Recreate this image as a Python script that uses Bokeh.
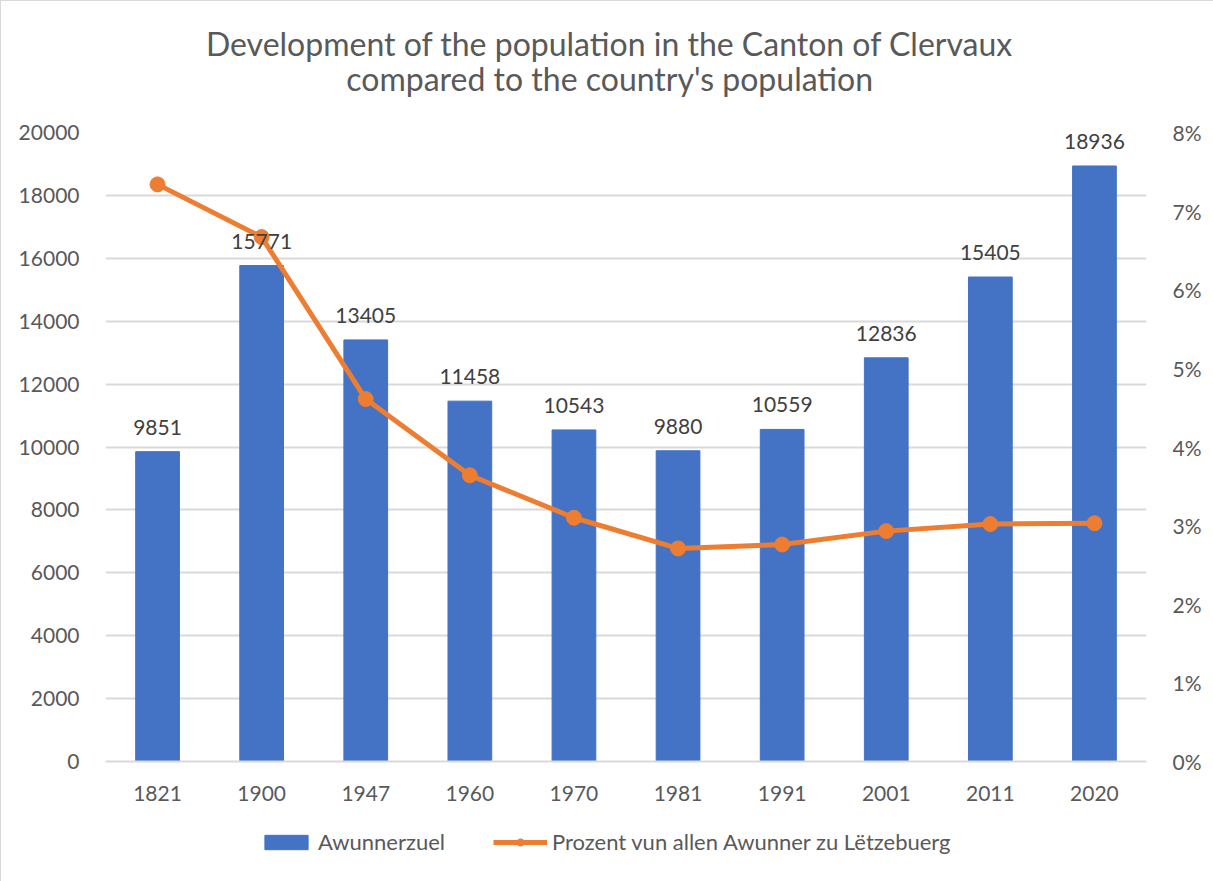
from bokeh.plotting import figure
from bokeh.layouts import column
from bokeh.models import (ColumnDataSource, FactorRange, Range1d, LinearAxis, FixedTicker,
                          PrintfTickFormatter, Legend, LegendItem, Label)
from bokeh.core.properties import value
from bokeh.embed import file_html
from bokeh.resources import INLINE

years = ["1821", "1900", "1947", "1960", "1970", "1981", "1991", "2001", "2011", "2020"]
population = [9851, 15771, 13405, 11458, 10543, 9880, 10559, 12836, 15405, 18936]
percent = [7.34, 6.67, 4.61, 3.64, 3.10, 2.71, 2.76, 2.93, 3.02, 3.03]
left_ticks = list(range(0, 20001, 2000))
right_ticks = list(range(0, 9))
title_lines = ["Development of the population in the Canton of Clervaux",
               "compared to the country's population"]
series_names = ["Awunnerzuel", "Prozent vun allen Awunner zu Lëtzebuerg"]

FONT = "Lato"
TXT = "#595959"
BLUE = "#4472C4"
ORANGE = "#ED7D31"
W = 1213

# ---------- header (title) ----------
head = figure(width=W, height=110, x_range=Range1d(0, W), y_range=Range1d(0, 110),
              x_axis_location=None, y_axis_location=None,
              output_backend="svg", toolbar_location=None, min_border=0)
head.grid.visible = False
head.outline_line_color = None
for txt, yy in zip(title_lines, [68, 33]):
    head.add_layout(Label(x=W / 2 - 19, y=yy, text=txt, text_align="center", text_baseline="middle",
                          text_font=FONT, text_font_size="32px", text_color=TXT))

# ---------- main chart ----------
src = ColumnDataSource(dict(x=years, pop=population, pct=percent,
                            lbl=[str(v) for v in population]))

p = figure(x_range=FactorRange(*years, range_padding=0), y_range=Range1d(0, 20000),
           frame_width=1041, frame_height=629, output_backend="svg", toolbar_location=None,
           min_border_left=104, min_border_right=68, min_border_top=21, min_border_bottom=50)
p.extra_y_ranges = {"pct": Range1d(0, 8)}

p.vbar(x="x", top="pop", width=0.42, source=src, color=BLUE)
p.line(x="x", y="pct", source=src, y_range_name="pct", line_color=ORANGE, line_width=5)
p.scatter(x="x", y="pct", source=src, y_range_name="pct", size=15,
          fill_color=ORANGE, line_color=ORANGE)
p.text(x="x", y="pop", text="lbl", source=src, text_align="center", text_baseline="bottom",
       y_offset=-17, text_font=value(FONT), text_font_size="21px", text_color="#404040")

p.yaxis.ticker = FixedTicker(ticks=left_ticks)
p.yaxis.axis_line_color = None
p.yaxis.major_tick_line_color = None
p.yaxis.minor_tick_line_color = None
p.yaxis.major_label_text_font = FONT
p.yaxis.major_label_text_font_size = "21px"
p.yaxis.major_label_text_color = TXT
p.yaxis.major_label_standoff = 20

ra = LinearAxis(y_range_name="pct", ticker=FixedTicker(ticks=right_ticks),
                formatter=PrintfTickFormatter(format="%d%%"))
ra.axis_line_color = None
ra.major_tick_line_color = None
ra.minor_tick_line_color = None
ra.major_label_text_font = FONT
ra.major_label_text_font_size = "21px"
ra.major_label_text_color = TXT
ra.major_label_standoff = 20
p.add_layout(ra, "right")

p.xaxis.axis_line_color = "#d9d9d9"
p.xaxis.axis_line_width = 2
p.xaxis.major_tick_line_color = None
p.xaxis.minor_tick_line_color = None
p.xaxis.major_label_text_font = FONT
p.xaxis.major_label_text_font_size = "21px"
p.xaxis.major_label_text_color = TXT
p.xaxis.major_label_standoff = 18

p.xgrid.grid_line_color = None
p.ygrid.grid_line_color = "#d9d9d9"
p.ygrid.grid_line_width = 2
p.outline_line_color = None

# ---------- legend strip (renderers hidden, only legend shown) ----------
leg = figure(width=W, height=71, x_range=FactorRange(*years), y_range=Range1d(-1, 0),
             x_axis_location=None, y_axis_location=None,
             output_backend="svg", toolbar_location=None, min_border=0)
leg.grid.visible = False
leg.outline_line_color = None
lb = leg.vbar(x="x", top="pop", width=0.42, source=src, color=BLUE, visible=False)
ll = leg.line(x="x", y="pct", source=src, line_color=ORANGE, line_width=5, visible=False)
ls = leg.scatter(x="x", y="pct", source=src, size=13, fill_color=ORANGE, line_color=ORANGE,
                 visible=False)
legend = Legend(items=[LegendItem(label=series_names[0], renderers=[lb]),
                       LegendItem(label=series_names[1], renderers=[ll, ls])],
                orientation="horizontal", location=(154, 27), label_text_font=FONT,
                label_text_font_size="22px", label_text_color=TXT, glyph_width=54, glyph_height=18,
                spacing=48, border_line_alpha=0, background_fill_alpha=0, margin=0, padding=0,
                label_standoff=5)
leg.add_layout(legend, "center")

layout = column(head, p, leg, spacing=0)
layout.styles = {"border": "1px solid #d9d9d9"}

open("out.html", "w").write(file_html(layout, INLINE))
